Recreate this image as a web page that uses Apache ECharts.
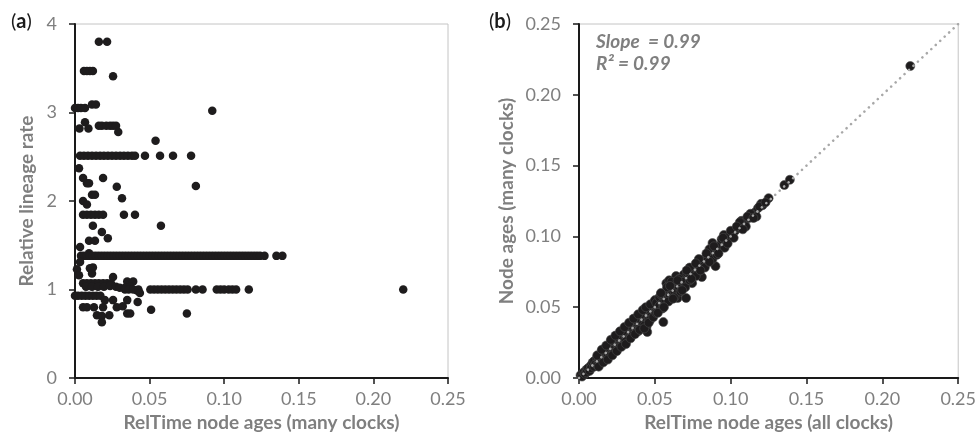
<!DOCTYPE html>
<html>
<head>
<meta charset="utf-8">
<script src="https://cdn.jsdelivr.net/npm/echarts@6/dist/echarts.min.js"></script>
<style>
html,body{margin:0;padding:0;background:#fff;}
#chart{width:979px;height:444px;}
</style>
</head>
<body>
<div id="chart"></div>
<script>
// ---------- DATA ----------
var xTicks = [0, 0.05, 0.10, 0.15, 0.20, 0.25];
var rateTicks = [0, 1, 2, 3, 4];
var ageTicks = [0, 0.05, 0.10, 0.15, 0.20, 0.25];

// Panel (a): [RelTime node age (many clocks), relative lineage rate]
var rateHigh = [
  [0.016,3.80],[0.0215,3.80],
  [0.006,3.47],[0.008,3.47],[0.010,3.47],[0.012,3.47],[0.0255,3.41],
  [0.000,3.05],[0.002,3.05],[0.004,3.05],[0.0067,3.05],[0.0114,3.09],[0.014,3.09],
  [0.092,3.02],
  [0.0067,2.89],[0.003,2.82],[0.009,2.82],
  [0.016,2.85],[0.018,2.85],[0.021,2.85],[0.0235,2.85],[0.0255,2.85],[0.0275,2.85],
  [0.029,2.78],[0.054,2.68],
  [0.0034,2.51],[0.006,2.51],[0.0087,2.51],[0.0114,2.51],[0.0141,2.51],[0.0168,2.51],
  [0.0194,2.51],[0.0221,2.51],[0.0248,2.51],[0.0275,2.51],[0.0302,2.51],[0.0328,2.51],
  [0.0355,2.51],[0.0382,2.51],[0.0402,2.51],[0.0469,2.51],[0.0570,2.51],[0.0657,2.51],[0.0778,2.51],
  [0.0027,2.37],[0.0054,2.26],[0.008,2.20],[0.0094,2.20],[0.0188,2.26],[0.028,2.16],[0.081,2.17],
  [0.0114,2.07],[0.0134,2.07],[0.0315,2.03],[0.0054,2.00],[0.008,1.96]
];
var rateMid = [
  [0.0054,1.845],[0.008,1.845],[0.0107,1.845],[0.0134,1.845],[0.016,1.845],[0.0188,1.845],
  [0.0328,1.845],[0.0402,1.845],
  [0.012,1.72],[0.0576,1.72],[0.018,1.65],[0.022,1.58],[0.0094,1.55],[0.0134,1.55],[0.0034,1.48],
  [0.0094,1.41],
  [0.004,1.38],[0.006,1.38],[0.008,1.38],[0.010,1.38],[0.012,1.38],[0.014,1.38],[0.016,1.38],
  [0.018,1.38],[0.020,1.38],[0.022,1.38],[0.024,1.38],[0.026,1.38],[0.028,1.38],[0.030,1.38],
  [0.032,1.38],[0.034,1.38],[0.036,1.38],[0.038,1.38],[0.040,1.38],[0.042,1.38],[0.044,1.38],
  [0.046,1.38],[0.048,1.38],[0.050,1.38],[0.052,1.38],[0.054,1.38],[0.056,1.38],[0.058,1.38],
  [0.060,1.38],[0.062,1.38],[0.064,1.38],[0.066,1.38],[0.068,1.38],[0.070,1.38],[0.072,1.38],
  [0.074,1.38],[0.076,1.38],[0.078,1.38],[0.080,1.38],[0.082,1.38],[0.084,1.38],[0.086,1.38],
  [0.088,1.38],[0.090,1.38],[0.092,1.38],[0.094,1.38],[0.096,1.38],[0.098,1.38],[0.100,1.38],
  [0.102,1.38],[0.104,1.38],[0.106,1.38],[0.108,1.38],[0.110,1.38],[0.112,1.38],[0.114,1.38],
  [0.116,1.38],[0.118,1.38],[0.120,1.38],[0.122,1.38],[0.124,1.38],[0.127,1.38],[0.135,1.38],[0.139,1.38],
  [0.0034,1.31],[0.0013,1.23],[0.010,1.24],[0.012,1.25],[0.0027,1.16],[0.0114,1.18],[0.0255,1.14]
];
var rateLow = [
  [0.0054,1.07],[0.008,1.07],[0.0107,1.07],[0.0134,1.07],[0.016,1.07],[0.0188,1.07],[0.0215,1.07],[0.0241,1.07],
  [0.035,1.09],[0.039,1.09],
  [0.0074,1.03],[0.0114,1.03],[0.0154,1.03],[0.0194,1.03],[0.0235,1.04],[0.0275,1.03],[0.030,1.02],
  [0.0335,1.02],[0.037,1.03],[0.0415,0.99],
  [0.0335,1.00],[0.036,1.00],[0.039,1.00],[0.0425,1.00],
  [0.0505,1.00],[0.053,1.00],[0.0555,1.00],[0.058,1.00],[0.0605,1.00],[0.063,1.00],[0.0655,1.00],
  [0.068,1.00],[0.0705,1.00],[0.073,1.00],[0.0755,1.00],[0.081,1.00],[0.0855,1.00],
  [0.095,1.00],[0.0975,1.00],[0.100,1.00],[0.103,1.00],[0.1055,1.00],[0.108,1.00],[0.1165,1.00],[0.22,1.00],
  [0.000,0.93],[0.002,0.93],[0.0045,0.93],[0.007,0.93],[0.0095,0.93],[0.012,0.93],[0.0145,0.93],[0.017,0.93],
  [0.020,0.88],[0.0255,0.88],[0.035,0.88],[0.042,0.86],[0.0435,0.96],
  [0.0054,0.80],[0.008,0.80],[0.0127,0.80],[0.0188,0.80],[0.028,0.80],[0.032,0.81],
  [0.0147,0.71],[0.018,0.70],[0.023,0.71],[0.035,0.73],[0.037,0.73],[0.051,0.77],[0.075,0.73],
  [0.018,0.63]
];

// Panel (b): [RelTime node age (all clocks), node age (many clocks)]
var agesLow = [
  [0.001,0.002],[0.002,0.001],[0.003,0.004],[0.004,0.003],[0.005,0.006],[0.005,0.004],[0.006,0.007],
  [0.007,0.005],[0.008,0.009],[0.008,0.007],[0.009,0.011],[0.010,0.008],[0.010,0.012],[0.011,0.010],
  [0.012,0.014],[0.012,0.009],[0.013,0.012],[0.014,0.016],[0.014,0.011],[0.015,0.013],[0.016,0.018],
  [0.016,0.014],[0.017,0.016],[0.018,0.020],[0.018,0.015],[0.019,0.018],[0.020,0.022],[0.020,0.017],
  [0.021,0.023],[0.022,0.019],[0.022,0.025],[0.023,0.021],[0.024,0.027],[0.024,0.022],[0.025,0.024],
  [0.026,0.029],[0.026,0.023],[0.027,0.026],[0.028,0.031],[0.028,0.025],[0.029,0.028],[0.030,0.033],
  [0.030,0.027],[0.031,0.030],[0.032,0.035],[0.032,0.029],[0.033,0.032],[0.034,0.037],[0.034,0.031],
  [0.035,0.034],[0.036,0.039],[0.036,0.033],[0.037,0.036],[0.038,0.041],[0.038,0.034],[0.039,0.038],
  [0.040,0.043],[0.040,0.036],[0.041,0.040],[0.042,0.045],[0.042,0.038],[0.043,0.042],[0.044,0.047],
  [0.0445,0.036],[0.045,0.0325],[0.045,0.044],[0.046,0.049],[0.046,0.041],[0.047,0.046],[0.048,0.050],
  [0.048,0.044],[0.049,0.048],[0.050,0.052],[0.050,0.046],
  [0.015,0.019],[0.017,0.021],[0.019,0.015],[0.021,0.026],[0.023,0.018],[0.025,0.029],[0.027,0.022],
  [0.029,0.033],[0.031,0.026],[0.033,0.037],[0.035,0.030],[0.037,0.041],[0.039,0.033],[0.041,0.045],
  [0.043,0.037],[0.045,0.049],[0.047,0.041],[0.049,0.053],
  [0.012,0.016],[0.013,0.008],[0.015,0.020],[0.016,0.011],[0.018,0.023],[0.019,0.013],[0.021,0.027],
  [0.022,0.016],[0.024,0.030],[0.025,0.019],[0.027,0.033],[0.028,0.022],[0.030,0.036],[0.031,0.024],
  [0.033,0.039],[0.034,0.028],[0.036,0.042],[0.037,0.031],[0.039,0.045],[0.040,0.034],[0.042,0.048],
  [0.043,0.035],[0.044,0.050],[0.046,0.039],[0.047,0.052],[0.049,0.043],[0.050,0.055]
];
var agesHigh = [
  [0.051,0.053],[0.052,0.049],[0.053,0.057],[0.053,0.051],[0.055,0.053],[0.0556,0.0395],[0.056,0.058],
  [0.057,0.055],[0.058,0.061],[0.0576,0.067],[0.0595,0.069],[0.060,0.058],[0.061,0.063],[0.0615,0.060],
  [0.062,0.066],[0.063,0.061],[0.064,0.072],[0.064,0.066],[0.065,0.0565],[0.066,0.064],[0.067,0.070],
  [0.068,0.066],[0.069,0.073],[0.0706,0.0565],[0.0713,0.074],[0.072,0.070],[0.0746,0.076],[0.0746,0.067],
  [0.076,0.075],[0.078,0.081],[0.078,0.077],[0.081,0.0713],[0.080,0.083],[0.082,0.080],[0.0837,0.0855],
  [0.085,0.084],[0.087,0.088],[0.088,0.0953],[0.090,0.089],[0.090,0.079],[0.092,0.093],[0.0935,0.094],
  [0.0955,0.101],[0.097,0.098],[0.099,0.100],[0.101,0.103],[0.103,0.104],[0.105,0.106],[0.107,0.108],
  [0.107,0.111],[0.109,0.110],[0.112,0.113],[0.114,0.115],[0.116,0.117],[0.118,0.120],[0.121,0.122],
  [0.125,0.127],[0.1354,0.1363],[0.139,0.140],[0.2184,0.2203],
  [0.051,0.046],[0.054,0.059],[0.055,0.049],[0.058,0.064],[0.059,0.054],[0.061,0.068],[0.063,0.057],
  [0.066,0.070],[0.067,0.061],[0.069,0.068],[0.070,0.064],[0.073,0.078],[0.073,0.069],[0.077,0.072],
  [0.079,0.084],[0.083,0.078],[0.086,0.091],[0.088,0.084],[0.091,0.087],[0.094,0.098],[0.096,0.092],
  [0.100,0.104],[0.102,0.099],[0.106,0.110],[0.110,0.107],[0.113,0.116],[0.117,0.114],[0.120,0.123],
  [0.052,0.046],[0.054,0.060],[0.056,0.050],[0.060,0.065],[0.062,0.056],[0.065,0.069],[0.068,0.062],
  [0.071,0.076],[0.074,0.070],[0.077,0.081],[0.080,0.076],[0.084,0.088],[0.086,0.082],[0.089,0.093],
  [0.092,0.088],[0.095,0.099],[0.098,0.095],[0.104,0.107],[0.108,0.105],[0.111,0.114],[0.115,0.113],
  [0.119,0.121],[0.123,0.124]
];
var identityLine = [[0, 0], [0.25, 0.25]];

// ---------- CHART ----------
var FONT = 'Lato, "Open Sans", sans-serif';
var GRAY = '#7f7f7f';
var AXIS = '#1a1a1a';

function xAxisCfg(gi, name) {
  return {
    gridIndex: gi, type: 'value', min: xTicks[0], max: xTicks[xTicks.length - 1], interval: 0.05,
    axisLine: { show: true, lineStyle: { color: AXIS, width: 2 } },
    axisTick: { show: true, inside: false, length: 6, lineStyle: { color: AXIS, width: 1.5 } },
    splitLine: { show: false },
    axisLabel: { formatter: function (v) { return v.toFixed(2); }, color: GRAY, fontSize: 18, fontFamily: FONT, margin: 12 },
    name: name, nameLocation: 'middle', nameGap: 30,
    nameTextStyle: { color: GRAY, fontSize: 19, fontWeight: 'bold', fontFamily: FONT }
  };
}

var option = {
  animation: false,
  backgroundColor: '#ffffff',
  grid: [
    { left: 75, top: 24, width: 373, height: 354, show: true, borderColor: '#c4c4c4', borderWidth: 1, backgroundColor: 'transparent' },
    { left: 579, top: 24, width: 382, height: 354, show: true, borderColor: '#c4c4c4', borderWidth: 1, backgroundColor: 'transparent' }
  ],
  xAxis: [
    xAxisCfg(0, 'RelTime node ages (many clocks)'),
    xAxisCfg(1, 'RelTime node ages (all clocks)')
  ],
  yAxis: [
    {
      gridIndex: 0, type: 'value', min: rateTicks[0], max: rateTicks[rateTicks.length - 1], interval: 1,
      axisLine: { show: true, lineStyle: { color: AXIS, width: 2 } },
      axisTick: { show: true, length: 6, lineStyle: { color: AXIS, width: 1.5 } },
      splitLine: { show: false },
      axisLabel: { color: GRAY, fontSize: 18, fontFamily: FONT, margin: 18 },
      name: 'Relative lineage rate', nameLocation: 'middle', nameGap: 39,
      nameTextStyle: { color: GRAY, fontSize: 19, fontWeight: 'bold', fontFamily: FONT }
    },
    {
      gridIndex: 1, type: 'value', min: ageTicks[0], max: ageTicks[ageTicks.length - 1], interval: 0.05,
      axisLine: { show: true, lineStyle: { color: AXIS, width: 2 } },
      axisTick: { show: true, length: 6, lineStyle: { color: AXIS, width: 1.5 } },
      splitLine: { show: false },
      axisLabel: { formatter: function (v) { return v.toFixed(2); }, color: GRAY, fontSize: 18, fontFamily: FONT, margin: 18 },
      name: 'Node ages (many clocks)', nameLocation: 'middle', nameGap: 63,
      nameTextStyle: { color: GRAY, fontSize: 19, fontWeight: 'bold', fontFamily: FONT }
    }
  ],
  graphic: [
    { type: 'text', left: 11, top: 12, style: { text: '{p|(}{b|a}{p|)}', rich: { p: { fontSize: 20, fontFamily: FONT, fill: '#1a1a1a' }, b: { fontSize: 20, fontWeight: 'bold', fontFamily: FONT, fill: '#1a1a1a' } } } },
    { type: 'text', left: 489, top: 12, style: { text: '{p|(}{b|b}{p|)}', rich: { p: { fontSize: 20, fontFamily: FONT, fill: '#1a1a1a' }, b: { fontSize: 20, fontWeight: 'bold', fontFamily: FONT, fill: '#1a1a1a' } } } },
    { type: 'text', left: 596, top: 32, style: { text: 'Slope  = 0.99', fontSize: 19, fontStyle: 'italic', fontWeight: 'bold', fontFamily: FONT, fill: GRAY } },
    { type: 'text', left: 596, top: 54, style: { text: 'R\u00b2 = 0.99', fontSize: 19, fontStyle: 'italic', fontWeight: 'bold', fontFamily: FONT, fill: GRAY } }
  ],
  series: [
    { type: 'scatter', xAxisIndex: 0, yAxisIndex: 0, data: rateHigh, symbolSize: 8.5, itemStyle: { color: '#1e1c1d', opacity: 1 }, z: 2 },
    { type: 'scatter', xAxisIndex: 0, yAxisIndex: 0, data: rateMid, symbolSize: 8.5, itemStyle: { color: '#1e1c1d', opacity: 1 }, z: 2 },
    { type: 'scatter', xAxisIndex: 0, yAxisIndex: 0, data: rateLow, symbolSize: 8.5, itemStyle: { color: '#1e1c1d', opacity: 1 }, z: 2 },
    { type: 'scatter', xAxisIndex: 1, yAxisIndex: 1, data: agesLow, symbolSize: 9, itemStyle: { color: '#1e1c1d', borderColor: '#4a4a4a', borderWidth: 0.6, opacity: 1 }, z: 2 },
    { type: 'scatter', xAxisIndex: 1, yAxisIndex: 1, data: agesHigh, symbolSize: 9, itemStyle: { color: '#1e1c1d', borderColor: '#4a4a4a', borderWidth: 0.6, opacity: 1 }, z: 2 },
    { type: 'line', xAxisIndex: 1, yAxisIndex: 1, data: identityLine, symbol: 'none', silent: true,
      lineStyle: { color: '#a8a8a8', width: 2.6, type: [0.1, 6], cap: 'round' }, z: 5 }
  ]
};

var chart = echarts.init(document.getElementById('chart'), null, { renderer: 'canvas' });
chart.setOption(option);
</script>
</body>
</html>
